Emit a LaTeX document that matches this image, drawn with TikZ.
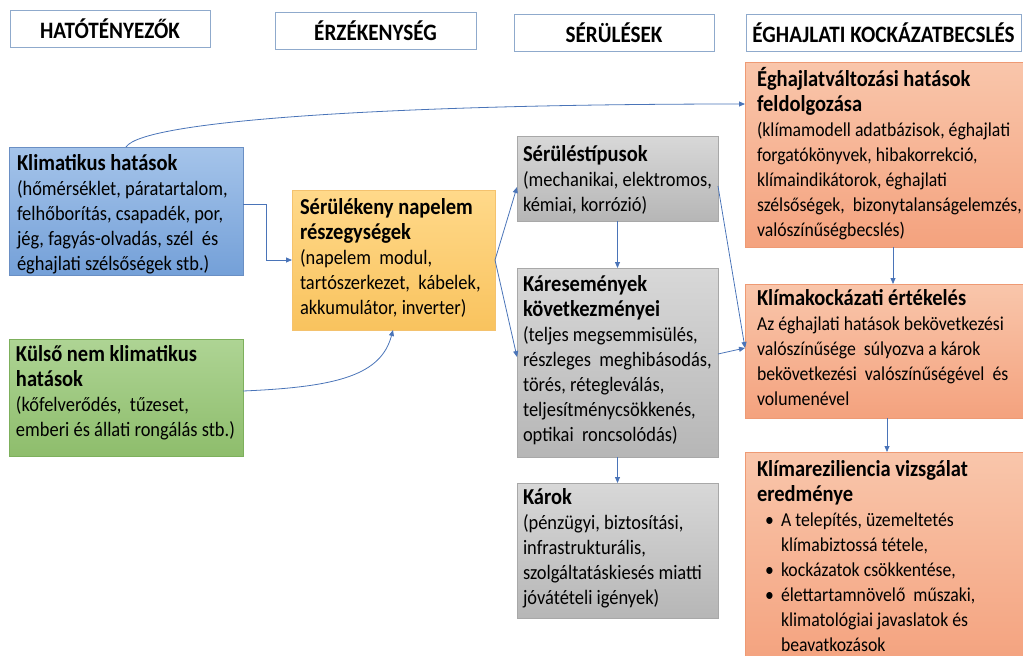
\documentclass[tikz,border=0pt]{standalone}
\usepackage{fontspec}
\setmainfont{Carlito}[FakeStretch=0.9]
\usetikzlibrary{arrows.meta,calc}
\definecolor{hdrline}{HTML}{8FAACC}
\definecolor{linec}{HTML}{4A74B8}
\definecolor{blueT}{HTML}{A5C4EA}
\definecolor{blueB}{HTML}{74A0D8}
\definecolor{blueL}{HTML}{6A8FC4}
\definecolor{greenT}{HTML}{AED494}
\definecolor{greenB}{HTML}{8EBD6C}
\definecolor{greenL}{HTML}{7DB05C}
\definecolor{yelT}{HTML}{FFD98A}
\definecolor{yelB}{HTML}{F9C35E}
\definecolor{yelL}{HTML}{F4C26E}
\definecolor{grayT}{HTML}{D8D8D8}
\definecolor{grayB}{HTML}{B6B6B6}
\definecolor{grayL}{HTML}{A8A8A8}
\definecolor{salT}{HTML}{F9C6AB}
\definecolor{salB}{HTML}{F4A27E}
\definecolor{salL}{HTML}{EE9A74}
\newcommand{\ttl}[1]{{\fontsize{22.8}{25}\selectfont\bfseries #1}}
\newcommand{\bul}{\hspace*{8pt}\makebox[16pt][l]{•}}
\tikzset{
  hdr/.style={draw=hdrline, line width=0.8pt, fill=white, inner sep=0pt, outer sep=0pt,
    minimum height=37pt, font=\fontsize{23.5}{25}\selectfont\bfseries},
  box/.style={line width=0.8pt, anchor=north west, inner sep=0pt, outer sep=0pt},
  bluebox/.style={box, draw=blueL, top color=blueT, bottom color=blueB},
  greenbox/.style={box, draw=greenL, top color=greenT, bottom color=greenB},
  yelbox/.style={box, draw=yelL, top color=yelT, bottom color=yelB},
  graybox/.style={box, draw=grayL, top color=grayT, bottom color=grayB},
  salbox/.style={box, draw=salL, top color=salT, bottom color=salB},
  txt/.style={anchor=north west, align=left, inner sep=0pt, outer sep=0pt,
    font=\fontsize{20.5}{25}\selectfont},
  rtxt/.style={txt, font=\fontsize{19.7}{25}\selectfont},
  conn/.style={draw=linec, line width=0.8pt, -{Triangle[length=6pt,width=5pt]}}
}
\begin{document}
\begin{tikzpicture}[x=1pt,y=-1pt]
\useasboundingbox (0,0) rectangle (1023,656);
% headers
\node[hdr, minimum width=200pt] (h1) at (110,28.5) {HATÓTÉNYEZŐK};
\node[hdr, minimum width=201pt] (h2) at (375.5,30.5) {ÉRZÉKENYSÉG};
\node[hdr, minimum width=200pt] (h3) at (614,32.5) {SÉRÜLÉSEK};
\node[hdr, minimum width=275pt] (h4) at (883.5,32.5) {ÉGHAJLATI KOCKÁZATBECSLÉS};
% boxes
\node[bluebox, minimum width=234pt, minimum height=128pt] (klim) at (9,147) {};
\node[greenbox, minimum width=234pt, minimum height=117pt] (kulso) at (9,339) {};
\node[yelbox, minimum width=203pt, minimum height=140pt] (seru) at (292,190) {};
\node[graybox, minimum width=201pt, minimum height=85pt] (tipus) at (517,136) {};
\node[graybox, minimum width=201pt, minimum height=189pt] (kares) at (517,268) {};
\node[graybox, minimum width=201pt, minimum height=135pt] (karok) at (517,483) {};
\node[salbox, minimum width=282pt, minimum height=185pt] (eghaj) at (745,62) {};
\node[salbox, minimum width=282pt, minimum height=134pt] (kock) at (745,284) {};
\node[salbox, minimum width=282pt, minimum height=214pt] (rezil) at (745,452) {};
% texts
\node[txt] (klimT) at (17,154) {\ttl{Klimatikus hatások}\\(hőmérséklet, páratartalom,\\felhőborítás, csapadék, por,\\jég, fagyás-olvadás, szél \ és\\éghajlati szélsőségek stb.)};
\node[txt] (kulsoT) at (16,345) {\ttl{Külső nem klimatikus}\\\ttl{hatások}\\(kőfelverődés, \ tűzeset,\\emberi és állati rongálás stb.)};
\node[txt] (seruT) at (300,198) {\ttl{Sérülékeny napelem}\\\ttl{részegységek}\\(napelem \ modul,\\tartószerkezet, \ kábelek,\\akkumulátor, inverter)};
\node[txt] (tipusT) at (523,145) {\ttl{Sérüléstípusok}\\(mechanikai, elektromos,\\kémiai, korrózió)};
\node[txt] (karesT) at (523,275) {\ttl{Káresemények}\\\ttl{következményei}\\(teljes megsemmisülés,\\részleges \ meghibásodás,\\törés, rétegleválás,\\teljesítménycsökkenés,\\optikai \ roncsolódás)};
\node[txt] (karokT) at (523,488) {\ttl{Károk}\\(pénzügyi, biztosítási,\\infrastrukturális,\\szolgáltatáskiesés miatti\\jóvátételi igények)};
\node[rtxt] (eghajT) at (757,67) {\ttl{Éghajlatváltozási hatások}\\\ttl{feldolgozása}\\(klímamodell adatbázisok, éghajlati\\forgatókönyvek, hibakorrekció,\\klímaindikátorok, éghajlati\\szélsőségek, \ bizonytalanságelemzés,\\valószínűségbecslés)};
\node[rtxt] (kockT) at (757,289) {\ttl{Klímakockázati értékelés}\\Az éghajlati hatások bekövetkezési\\valószínűsége \ súlyozva a károk\\bekövetkezési \ valószínűségével \ és\\volumenével};
\node[rtxt] (rezilT) at (757,460) {\ttl{Klímareziliencia vizsgálat}\\\ttl{eredménye}\\\bul A telepítés, üzemeltetés\\\hspace*{24pt}klímabiztossá tétele,\\\bul kockázatok csökkentése,\\\bul élettartamnövelő \ műszaki,\\\hspace*{24pt}klimatológiai javaslatok és\\\hspace*{24pt}beavatkozások};
% connectors
\coordinate (c1) at ($(eghaj.north west)+(0,42)$);
\draw[conn] (klim.north) .. controls +(18,-28) and +(-330,0) .. (c1);
\coordinate (c2) at ($(klim.north east)+(0,57)$);
\draw[conn] (c2) -| ($(seru.west)+(-26,0)$) -- (seru.west);
\coordinate (c3) at ($(kulso.north east)+(0,52)$);
\coordinate (c4) at ($(seru.south west)+(101,0)$);
\draw[conn] (c3) .. controls +(95,-4) and +(-12,45) .. (c4);
\draw[conn] (seru.east) -- ($(tipus.north west)+(0,51)$);
\draw[conn] (seru.east) -- ($(kares.north west)+(0,89)$);
\draw[conn] (tipus.south) -- (kares.north);
\draw[conn] (kares.south) -- (karok.north);
\coordinate (c5) at ($(kock.north west)+(0,64)$);
\draw[conn] ($(tipus.north east)+(0,50)$) -- (c5);
\draw[conn] ($(kares.north east)+(0,86)$) -- (c5);
\draw[conn] ($(eghaj.south west)+(148,0)$) -- ($(kock.north west)+(148,0)$);
\draw[conn] ($(kock.south west)+(142,0)$) -- ($(rezil.north west)+(142,0)$);
\end{tikzpicture}
\end{document}
